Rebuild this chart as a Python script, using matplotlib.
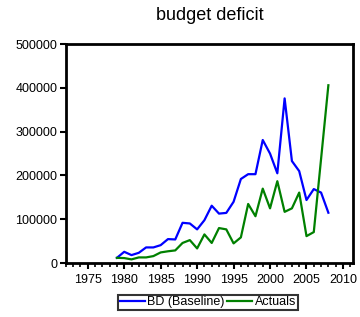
import numpy as np
import matplotlib
matplotlib.use("Agg")
import matplotlib.pyplot as plt
from matplotlib.ticker import MultipleLocator

years = list(range(1979, 2009))
baseline = [12000, 25800, 18300, 23500, 35800, 35800, 41000, 54800, 54000, 92000,
            90500, 77000, 98000, 131000, 113000, 114600, 140000, 192000, 203000, 203000,
            281000, 250000, 205000, 376000, 233000, 210000, 144000, 169000, 161000, 115000]
actuals = [12000, 11500, 8500, 13000, 13000, 16000, 24400, 27000, 29000, 46000,
           52500, 33500, 65500, 46000, 80000, 77000, 45000, 58700, 135000, 107000,
           170000, 125000, 187000, 117000, 125000, 161000, 61600, 70800, 238000, 406000]

plt.rcParams['font.family'] = ['Liberation Sans', 'DejaVu Sans']

def main():
    fig = plt.figure(figsize=(3.6, 3.17), dpi=100)
    ax = fig.add_axes([0.183, 0.170, 0.798, 0.691])
    ax.plot(years, baseline, color='#0000ff', linewidth=1.6, label='BD (Baseline)')
    ax.plot(years, actuals, color='#008000', linewidth=1.6, label='Actuals')

    ax.set_xlim(1972, 2011.4)
    ax.set_ylim(0, 500000)
    ax.xaxis.set_major_locator(MultipleLocator(5))
    ax.xaxis.set_minor_locator(MultipleLocator(1))
    ax.yaxis.set_major_locator(MultipleLocator(100000))
    ax.tick_params(axis='both', direction='out', labelsize=9, width=1.5, length=4, pad=2)
    ax.tick_params(axis='x', pad=4)
    ax.tick_params(axis='x', which='minor', direction='out', width=1.2, length=3)
    ax.tick_params(top=False, right=False)
    for s in ax.spines.values():
        s.set_linewidth(2)

    ax.set_title('budget deficit', fontsize=13, pad=17)
    fig.legend(loc='center', bbox_to_anchor=(0.578, 0.046), ncol=2, fontsize=9,
               frameon=True, fancybox=False, edgecolor='black', handlelength=2,
               handletextpad=0.2, columnspacing=0.2, borderpad=0.15, borderaxespad=0)
    leg = fig.legends[0]
    leg.get_frame().set_linewidth(1.5)
    plt.savefig('out.png', dpi=100)

if __name__ == '__main__':
    main()
